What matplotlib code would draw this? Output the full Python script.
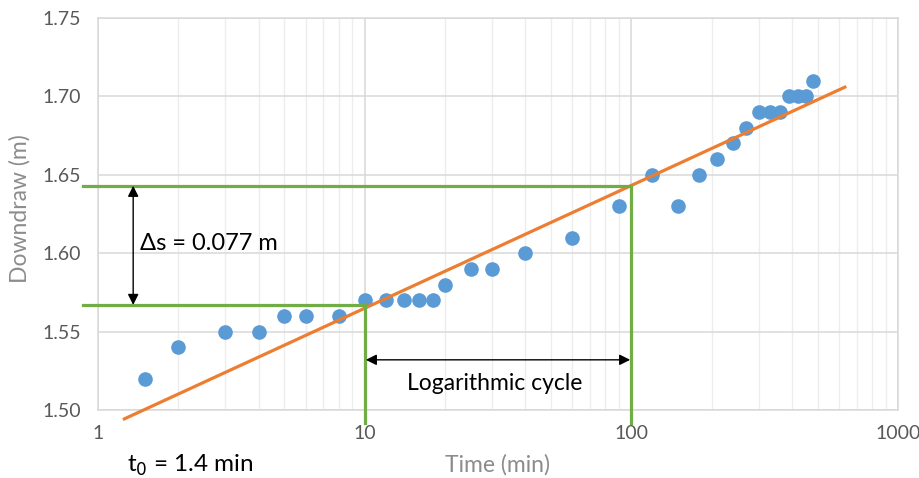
import numpy as np
import matplotlib
matplotlib.use("Agg")
import matplotlib.pyplot as plt
from matplotlib.ticker import LogLocator, FixedLocator, NullFormatter

# ---- data ----
time_min = [1.5, 2, 3, 4, 5, 6, 8, 10, 12, 14, 16, 18, 20, 25, 30, 40, 60, 90,
            120, 150, 180, 210, 240, 270, 300, 330, 360, 390, 420, 450, 480]
downdraw = [1.52, 1.54, 1.55, 1.55, 1.56, 1.56, 1.56, 1.57, 1.57, 1.57, 1.57, 1.57,
            1.58, 1.59, 1.59, 1.60, 1.61, 1.63, 1.65, 1.63, 1.65, 1.66, 1.67, 1.68,
            1.69, 1.69, 1.69, 1.70, 1.70, 1.70, 1.71]
fit_intercept = 1.4866
fit_slope = 0.0783
fit_t_range = [1.24, 640]
s_at_10 = 1.567
s_at_100 = 1.643
x_ticks = [1, 10, 100, 1000]
x_tick_labels = ["1", "10", "100", "1000"]
y_ticks = [1.50, 1.55, 1.60, 1.65, 1.70, 1.75]
y_tick_labels = ["1.50", "1.55", "1.60", "1.65", "1.70", "1.75"]

plt.rcParams['font.family'] = ['Lato', 'DejaVu Sans']

fig = plt.figure(figsize=(9.2, 4.78), dpi=100)
ax = fig.add_axes([98/920, 68/478, 800/920, 392/478])

ax.set_xscale('log')
ax.set_xlim(1, 1000)
ax.set_ylim(1.50, 1.75)

ax.xaxis.set_major_locator(FixedLocator(x_ticks))
ax.set_xticklabels(x_tick_labels)
ax.xaxis.set_minor_locator(LogLocator(base=10, subs=np.arange(2, 10)))
ax.xaxis.set_minor_formatter(NullFormatter())
ax.set_yticks(y_ticks)
ax.set_yticklabels(y_tick_labels)

ax.grid(True, which='major', color='#D9D9D9', lw=1.1)
ax.grid(True, which='minor', axis='x', color='#EDEDED', lw=1.0)
ax.set_axisbelow(True)
for sp in ax.spines.values():
    sp.set_color('#D9D9D9')
    sp.set_linewidth(1.1)
ax.tick_params(which='both', length=0, labelsize=14, colors='#595959')
ax.tick_params(axis='y', pad=12)
ax.tick_params(axis='x', pad=11)

# data points
ax.plot(time_min, downdraw, 'o', color='#5B9BD5', ms=9.5, zorder=3)

# fit line
t_fit = np.array(fit_t_range)
ax.plot(t_fit, fit_intercept + fit_slope * np.log10(t_fit), color='#ED7D31',
        lw=2.3, zorder=4, clip_on=False, solid_capstyle='butt')

# green construction lines
g = '#70AD47'
x_left = 0.878
y_low = 1.492
ax.plot([x_left, 10, 10], [s_at_10, s_at_10, y_low], color=g, lw=2.3,
        clip_on=False, zorder=5, solid_joinstyle='miter')
ax.plot([x_left, 100, 100], [s_at_100, s_at_100, y_low], color=g, lw=2.3,
        clip_on=False, zorder=5, solid_joinstyle='miter')

# arrows
arrow_kw = dict(arrowstyle='<|-|>', color='black', lw=1.0, mutation_scale=16,
                shrinkA=0, shrinkB=0)
ax.annotate('', xy=(1.355, s_at_10), xytext=(1.355, s_at_100), arrowprops=arrow_kw, zorder=6)
ax.annotate('', xy=(10.1, 1.532), xytext=(99, 1.532), arrowprops=arrow_kw, zorder=6)

ax.text(1.44, 1.6065, 'Δs = 0.077 m', fontsize=17, color='black', va='center', ha='left')
ax.text(30.7, 1.5166, 'Logarithmic cycle', fontsize=16.5, color='black', va='center', ha='center')

fig.text(127/920, 1 - 465/478, 't$_0$ = 1.4 min', fontsize=17.5, color='black',
         va='center', ha='left')
fig.text(498/920, 1 - 465/478, 'Time (min)', fontsize=16.5, color='#8C8C8C',
         va='center', ha='center')
fig.text(20/920, 1 - 209/478, 'Downdraw (m)', fontsize=16.5, color='#8C8C8C',
         va='center', ha='center', rotation=90)

fig.savefig('out.png', dpi=100)
